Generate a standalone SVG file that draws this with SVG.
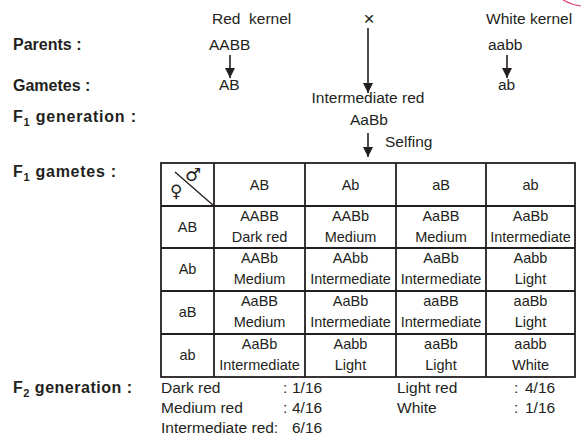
<svg xmlns="http://www.w3.org/2000/svg" width="581" height="444" viewBox="0 0 581 444">
<defs>
<style>
text{font-family:"Liberation Sans",Arial,sans-serif;fill:#231f20;font-size:15.5px}
.b{font-weight:bold;font-size:16px}
.c{font-size:14.5px;text-anchor:middle}
.m{text-anchor:middle}
.ln{stroke:#231f20;stroke-width:1.6;fill:none}
.g{stroke:#231f20;stroke-width:1.8;fill:none}
</style>
<marker id="ah" markerWidth="10" markerHeight="12" viewBox="0 0 10 12" refX="10" refY="6" orient="auto" markerUnits="userSpaceOnUse">
<path d="M0,1 L10,6 L0,11 Z" fill="#231f20"/>
</marker>
</defs>
<path d="M563,0 Q572,5 581,6" stroke="#e0407f" stroke-width="1.2" fill="none"/>
<g id="labels">
<text class="b" x="13" y="50">Parents :</text>
<text class="b" x="13" y="91">Gametes :</text>
<text class="b" x="13" y="122" textLength="123" lengthAdjust="spacing">F<tspan font-size="11" dy="4">1</tspan><tspan dy="-4"> generation :</tspan></text>
<text class="b" x="13" y="177" textLength="103" lengthAdjust="spacing">F<tspan font-size="11" dy="4">1</tspan><tspan dy="-4"> gametes :</tspan></text>
<text class="b" x="13" y="393" textLength="119" lengthAdjust="spacing">F<tspan font-size="11" dy="4">2</tspan><tspan dy="-4"> generation :</tspan></text>
</g>
<g id="parent-red">
<text x="212" y="24" xml:space="preserve">Red  kernel</text>
<text x="209" y="50">AABB</text>
<text x="219" y="90">AB</text>
</g>
<g id="cross"><text class="m" x="369" y="25" style="font-size:19px">×</text></g>
<g id="parent-white">
<text x="486" y="24">White kernel</text>
<text x="488" y="50">aabb</text>
<text x="498" y="90">ab</text>
</g>
<g id="f1">
<text class="m" x="368" y="103">Intermediate red</text>
<text class="m" x="369" y="125">AaBb</text>
<text x="385" y="147">Selfing</text>
</g>
<g id="connectors">
<line class="ln" x1="230" y1="55" x2="230" y2="78" marker-end="url(#ah)"/>
<line class="ln" x1="368" y1="28" x2="368" y2="93" marker-end="url(#ah)"/>
<line class="ln" x1="507" y1="55" x2="507" y2="78" marker-end="url(#ah)"/>
<line class="ln" x1="368" y1="133" x2="368" y2="157" marker-end="url(#ah)"/>
</g>
<g id="punnett">
<rect class="g" x="161" y="163" width="414" height="214"/>
<line class="g" x1="214" y1="163" x2="214" y2="377"/>
<line class="g" x1="305" y1="163" x2="305" y2="377"/>
<line class="g" x1="396" y1="163" x2="396" y2="377"/>
<line class="g" x1="486" y1="163" x2="486" y2="377"/>
<line class="g" x1="161" y1="206" x2="575" y2="206"/>
<line class="g" x1="161" y1="248" x2="575" y2="248"/>
<line class="g" x1="161" y1="291" x2="575" y2="291"/>
<line class="g" x1="161" y1="334" x2="575" y2="334"/>
<line stroke="#231f20" stroke-width="1.3" x1="175" y1="172" x2="214" y2="206"/>
<text x="170" y="197" style="font-family:'DejaVu Sans',sans-serif;font-size:17px">♀</text>
<text x="185" y="181" style="font-family:'DejaVu Sans',sans-serif;font-size:18px">♂</text>
<text class="c" x="259.5" y="190">AB</text>
<text class="c" x="350.5" y="190">Ab</text>
<text class="c" x="441" y="190">aB</text>
<text class="c" x="530.5" y="190">ab</text>
<text class="c" x="187.5" y="232">AB</text>
<text class="c" x="187.5" y="274">Ab</text>
<text class="c" x="187.5" y="317">aB</text>
<text class="c" x="187.5" y="360">ab</text>
<text class="c" x="259.5" y="221">AABB</text><text class="c" x="259.5" y="242">Dark red</text>
<text class="c" x="350.5" y="221">AABb</text><text class="c" x="350.5" y="242">Medium</text>
<text class="c" x="441" y="221">AaBB</text><text class="c" x="441" y="242">Medium</text>
<text class="c" x="530.5" y="221">AaBb</text><text class="c" x="530.5" y="242">Intermediate</text>
<text class="c" x="259.5" y="263">AABb</text><text class="c" x="259.5" y="284">Medium</text>
<text class="c" x="350.5" y="263">AAbb</text><text class="c" x="350.5" y="284">Intermediate</text>
<text class="c" x="441" y="263">AaBb</text><text class="c" x="441" y="284">Intermediate</text>
<text class="c" x="530.5" y="263">Aabb</text><text class="c" x="530.5" y="284">Light</text>
<text class="c" x="259.5" y="306">AaBB</text><text class="c" x="259.5" y="327">Medium</text>
<text class="c" x="350.5" y="306">AaBb</text><text class="c" x="350.5" y="327">Intermediate</text>
<text class="c" x="441" y="306">aaBB</text><text class="c" x="441" y="327">Intermediate</text>
<text class="c" x="530.5" y="306">aaBb</text><text class="c" x="530.5" y="327">Light</text>
<text class="c" x="259.5" y="349">AaBb</text><text class="c" x="259.5" y="370">Intermediate</text>
<text class="c" x="350.5" y="349">Aabb</text><text class="c" x="350.5" y="370">Light</text>
<text class="c" x="441" y="349">aaBb</text><text class="c" x="441" y="370">Light</text>
<text class="c" x="530.5" y="349">aabb</text><text class="c" x="530.5" y="370">White</text>
</g>
<g id="ratios">
<text x="161" y="393">Dark red</text><text x="283" y="393">:</text><text x="292" y="393">1/16</text>
<text x="161" y="413">Medium red</text><text x="283" y="413">:</text><text x="292" y="413">4/16</text>
<text x="161" y="433">Intermediate red:</text><text x="292" y="433">6/16</text>
<text x="397" y="393">Light red</text><text x="514" y="393">:</text><text x="525" y="393">4/16</text>
<text x="397" y="413">White</text><text x="514" y="413">:</text><text x="525" y="413">1/16</text>
</g>
</svg>
